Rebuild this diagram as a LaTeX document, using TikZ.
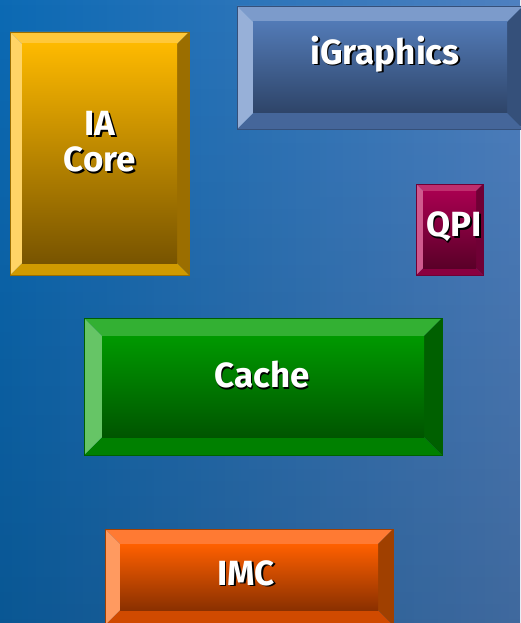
\documentclass[tikz,border=0pt]{standalone}
\usepackage{fontspec}
\setmainfont{Fira Sans}
\usetikzlibrary{positioning}
\usetikzlibrary{fadings}
\usetikzlibrary{calc}

% background
\definecolor{bgleft}{RGB}{12,106,180}
\definecolor{bgright}{RGB}{78,128,192}
% IA core
\definecolor{core-top}{RGB}{253,185,0}
\definecolor{core-bot}{RGB}{120,84,0}
\definecolor{core-tb}{RGB}{255,200,58}
\definecolor{core-lb}{RGB}{255,212,102}
\definecolor{core-rb}{RGB}{155,110,0}
\definecolor{core-bb}{RGB}{208,154,0}
% graphics
\definecolor{gfx-top}{RGB}{82,122,182}
\definecolor{gfx-bot}{RGB}{46,68,104}
\definecolor{gfx-tb}{RGB}{124,155,203}
\definecolor{gfx-lb}{RGB}{151,176,216}
\definecolor{gfx-rb}{RGB}{53,80,122}
\definecolor{gfx-bb}{RGB}{69,102,154}
% qpi
\definecolor{qpi-top}{RGB}{168,0,80}
\definecolor{qpi-bot}{RGB}{90,0,40}
\definecolor{qpi-tb}{RGB}{192,46,110}
\definecolor{qpi-lb}{RGB}{208,90,142}
\definecolor{qpi-rb}{RGB}{112,0,53}
\definecolor{qpi-bb}{RGB}{138,0,64}
% cache
\definecolor{cache-top}{RGB}{0,153,0}
\definecolor{cache-bot}{RGB}{0,85,0}
\definecolor{cache-tb}{RGB}{51,176,51}
\definecolor{cache-lb}{RGB}{102,197,102}
\definecolor{cache-rb}{RGB}{0,96,0}
\definecolor{cache-bb}{RGB}{0,128,0}
% imc
\definecolor{imc-top}{RGB}{255,96,0}
\definecolor{imc-bot}{RGB}{138,48,0}
\definecolor{imc-tb}{RGB}{255,122,51}
\definecolor{imc-lb}{RGB}{255,154,96}
\definecolor{imc-rb}{RGB}{160,64,0}
\definecolor{imc-bb}{RGB}{208,74,0}

\tikzset{
  boxtext/.style={text=white, font=\bfseries\fontsize{35}{35}\selectfont, align=center, inner sep=0pt},
  boxshadow/.style={boxtext, text=black}
}

% x1, y1, x2, y2, bevel, colour prefix
\newcommand{\bevelbox}[6]{%
  \fill[#6-tb] (#1,#2) -- (#3,#2) -- (#3-#5,#2+#5) -- (#1+#5,#2+#5) -- cycle;
  \fill[#6-bb] (#1,#4) -- (#3,#4) -- (#3-#5,#4-#5) -- (#1+#5,#4-#5) -- cycle;
  \fill[#6-lb] (#1,#2) -- (#1+#5,#2+#5) -- (#1+#5,#4-#5) -- (#1,#4) -- cycle;
  \fill[#6-rb] (#3,#2) -- (#3-#5,#2+#5) -- (#3-#5,#4-#5) -- (#3,#4) -- cycle;
  \shade[top color=#6-top, bottom color=#6-bot] (#1+#5,#2+#5) rectangle (#3-#5,#4-#5);
  \draw[#6-rb, line width=0.6pt] (#1,#2) rectangle (#3,#4);
}

% name, position, text
\newcommand{\boxlabel}[3]{%
  \node[boxshadow] (#1-shadow) at ($(#2)+(1.6,1.6)$) {#3};
  \node[boxtext] (#1) at (#2) {#3};
}

\begin{document}
\begin{tikzpicture}[x=1pt, y=-1pt]
  \useasboundingbox (0,0) rectangle (520,623);
  \shade[left color=bgleft, right color=bgright] (0,0) rectangle (520,623);
  \fill[black, opacity=0.18, path fading=north] (0,0) rectangle (520,623);

  \bevelbox{10}{32}{189}{275}{12}{core}
  \bevelbox{237}{6}{523}{129}{16}{gfx}
  \bevelbox{416}{184}{483}{275}{7}{qpi}
  \bevelbox{84}{318}{442}{455}{18}{cache}
  \bevelbox{105}{529}{393}{625}{15}{imc}

  \boxlabel{core}{100,142}{IA\\[1pt]Core}
  \boxlabel{gfx}{385,54}{iGraphics}
  \boxlabel{qpi}{454,227}{QPI}
  \boxlabel{cache}{262,375}{Cache}
  \boxlabel{imc}{246,573}{IMC}
\end{tikzpicture}
\end{document}
